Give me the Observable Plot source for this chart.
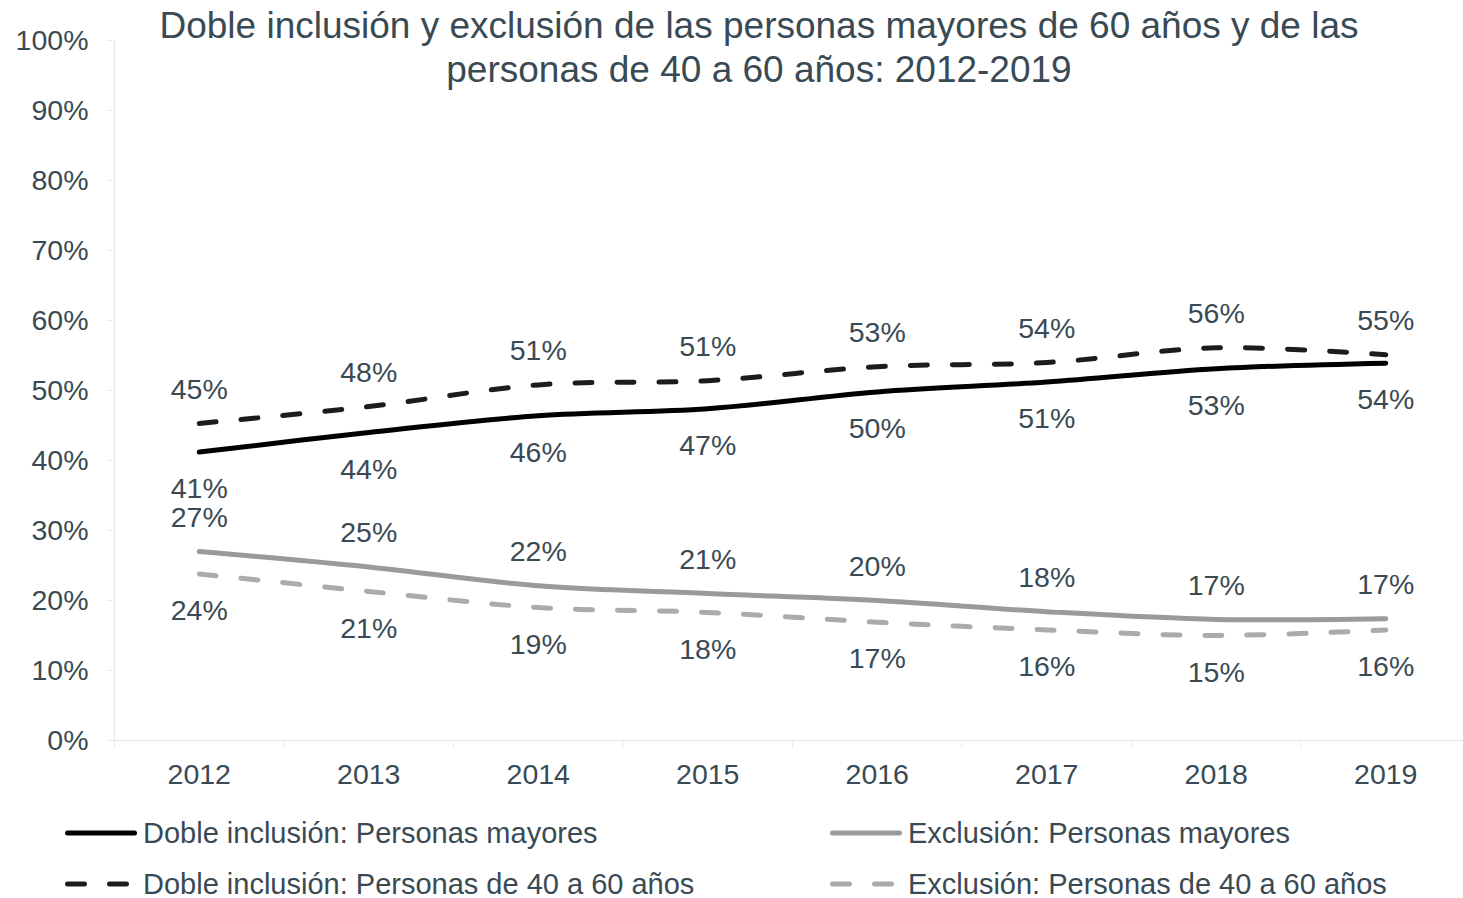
<!DOCTYPE html>
<html>
<head>
<meta charset="utf-8">
<script src="https://cdn.jsdelivr.net/npm/d3@7"></script>
<script src="https://cdn.jsdelivr.net/npm/@observablehq/plot@0.6"></script>
<style>
  body { margin: 0; background: #fff; font-family: "Liberation Sans", Arial, sans-serif; }
  #wrap { position: relative; width: 1463px; height: 898px; overflow: hidden; background: #fff; }
  #chart { position: absolute; left: 0; top: 0; }
  #title { position: absolute; left: 59px; width: 1400px; top: 4px; text-align: center; font-size: 37px; line-height: 44px; color: #3a4a54; white-space: nowrap; z-index: 2; }
  .leg { position: absolute; height: 40px; display: flex; align-items: center; font-size: 29px; color: #3a4a54; white-space: nowrap; }
  .leg span { margin-left: 3px; }
</style>
</head>
<body>
<div id="wrap">
  <div id="chart"></div>
  <div id="title">Doble inclusión y exclusión de las personas mayores de 60 años y de las<br>personas de 40 a 60 años: 2012-2019</div>
  <div id="legend"></div>
</div>
<script>
// ---- Data ----
const years = [2012, 2013, 2014, 2015, 2016, 2017, 2018, 2019];
const dobleInclusionMayores = [41.2, 44.0, 46.4, 47.4, 49.8, 51.2, 53.1, 53.9];
const dobleInclusion4060    = [45.3, 47.7, 50.8, 51.4, 53.4, 54.0, 56.1, 55.1];
const exclusionMayores      = [27.0, 24.8, 22.1, 21.0, 20.0, 18.4, 17.3, 17.4];
const exclusion4060         = [23.8, 21.3, 19.0, 18.3, 16.9, 15.8, 15.0, 15.8];
const seriesNames = [
  "Doble inclusión: Personas mayores",
  "Doble inclusión: Personas de 40 a 60 años",
  "Exclusión: Personas mayores",
  "Exclusión: Personas de 40 a 60 años"
];
const yTicks = [0, 10, 20, 30, 40, 50, 60, 70, 80, 90, 100];

// ---- Styles ----
const textColor = "#3a4a54";
const axisColor = "#ececec";
const series = [
  {name: seriesNames[0], values: dobleInclusionMayores, stroke: "#000000", dash: null, dy: 37},
  {name: seriesNames[1], values: dobleInclusion4060,    stroke: "#1c1c1c", dash: "17,25", dy: -34},
  {name: seriesNames[2], values: exclusionMayores,      stroke: "#9a9a9a", dash: null, dy: -34},
  {name: seriesNames[3], values: exclusion4060,         stroke: "#ababab", dash: "17,25", dy: 37}
];

const boundaries = years.map(y => y - 0.5);

const marks = [
  Plot.ruleX([years[0] - 0.5], {stroke: axisColor, strokeWidth: 1.5}),
  Plot.axisY({ticks: yTicks, tickSize: 7, tickPadding: 19, tickFormat: d => d + "%",
              stroke: axisColor, fill: textColor, fontSize: 28.5, label: null}),
  Plot.ruleY([0], {stroke: axisColor, strokeWidth: 1.5}),
  Plot.axisX({ticks: boundaries, tickSize: 8, tickFormat: () => "", stroke: axisColor, label: null}),
  Plot.axisX({ticks: years, tickSize: 0, tickPadding: 23, tickFormat: d => String(d),
              fill: textColor, fontSize: 28.5, label: null})
];

for (const s of series) {
  const rows = years.map((yr, i) => ({year: yr, value: s.values[i]}));
  marks.push(Plot.line(rows, {
    x: "year", y: "value", stroke: s.stroke, strokeWidth: 5,
    strokeDasharray: s.dash || undefined, strokeLinecap: "round", strokeLinejoin: "round",
    curve: "catmull-rom"
  }));
}
for (const s of series) {
  const rows = years.map((yr, i) => ({year: yr, value: s.values[i]}));
  marks.push(Plot.text(rows, {
    x: "year", y: "value", text: d => Math.round(d.value) + "%", dy: s.dy,
    fill: textColor, fontSize: 28.5
  }));
}

const chart = Plot.plot({
  width: 1463,
  height: 800,
  marginLeft: 114,
  marginRight: 0,
  marginTop: 40,
  marginBottom: 60,
  x: {domain: [years[0] - 0.5, years[years.length - 1] + 0.5], range: [114, 1470], label: null},
  y: {domain: [0, 100], label: null},
  style: {fontFamily: '"Liberation Sans", Arial, sans-serif', color: textColor, background: "transparent", overflow: "visible"},
  marks
});
document.getElementById("chart").appendChild(chart);

// ---- Legend ----
const legendPos = [
  {left: 62, top: 813}, {left: 62, top: 864},
  {left: 827, top: 813}, {left: 827, top: 864}
];
const legend = document.getElementById("legend");
series.forEach((s, idx) => {
  const p = legendPos[idx === 0 ? 0 : idx === 1 ? 1 : idx === 2 ? 2 : 3];
  const div = document.createElement("div");
  div.className = "leg";
  div.style.left = p.left + "px";
  div.style.top = p.top + "px";
  div.innerHTML = `<svg width="78" height="40"><line x1="5.5" x2="72.5" y1="20" y2="20" stroke="${s.stroke}" stroke-width="5" stroke-linecap="round" ${s.dash ? `stroke-dasharray="${s.dash}"` : ""}></line></svg><span>${s.name}</span>`;
  legend.appendChild(div);
});
</script>
</body>
</html>
